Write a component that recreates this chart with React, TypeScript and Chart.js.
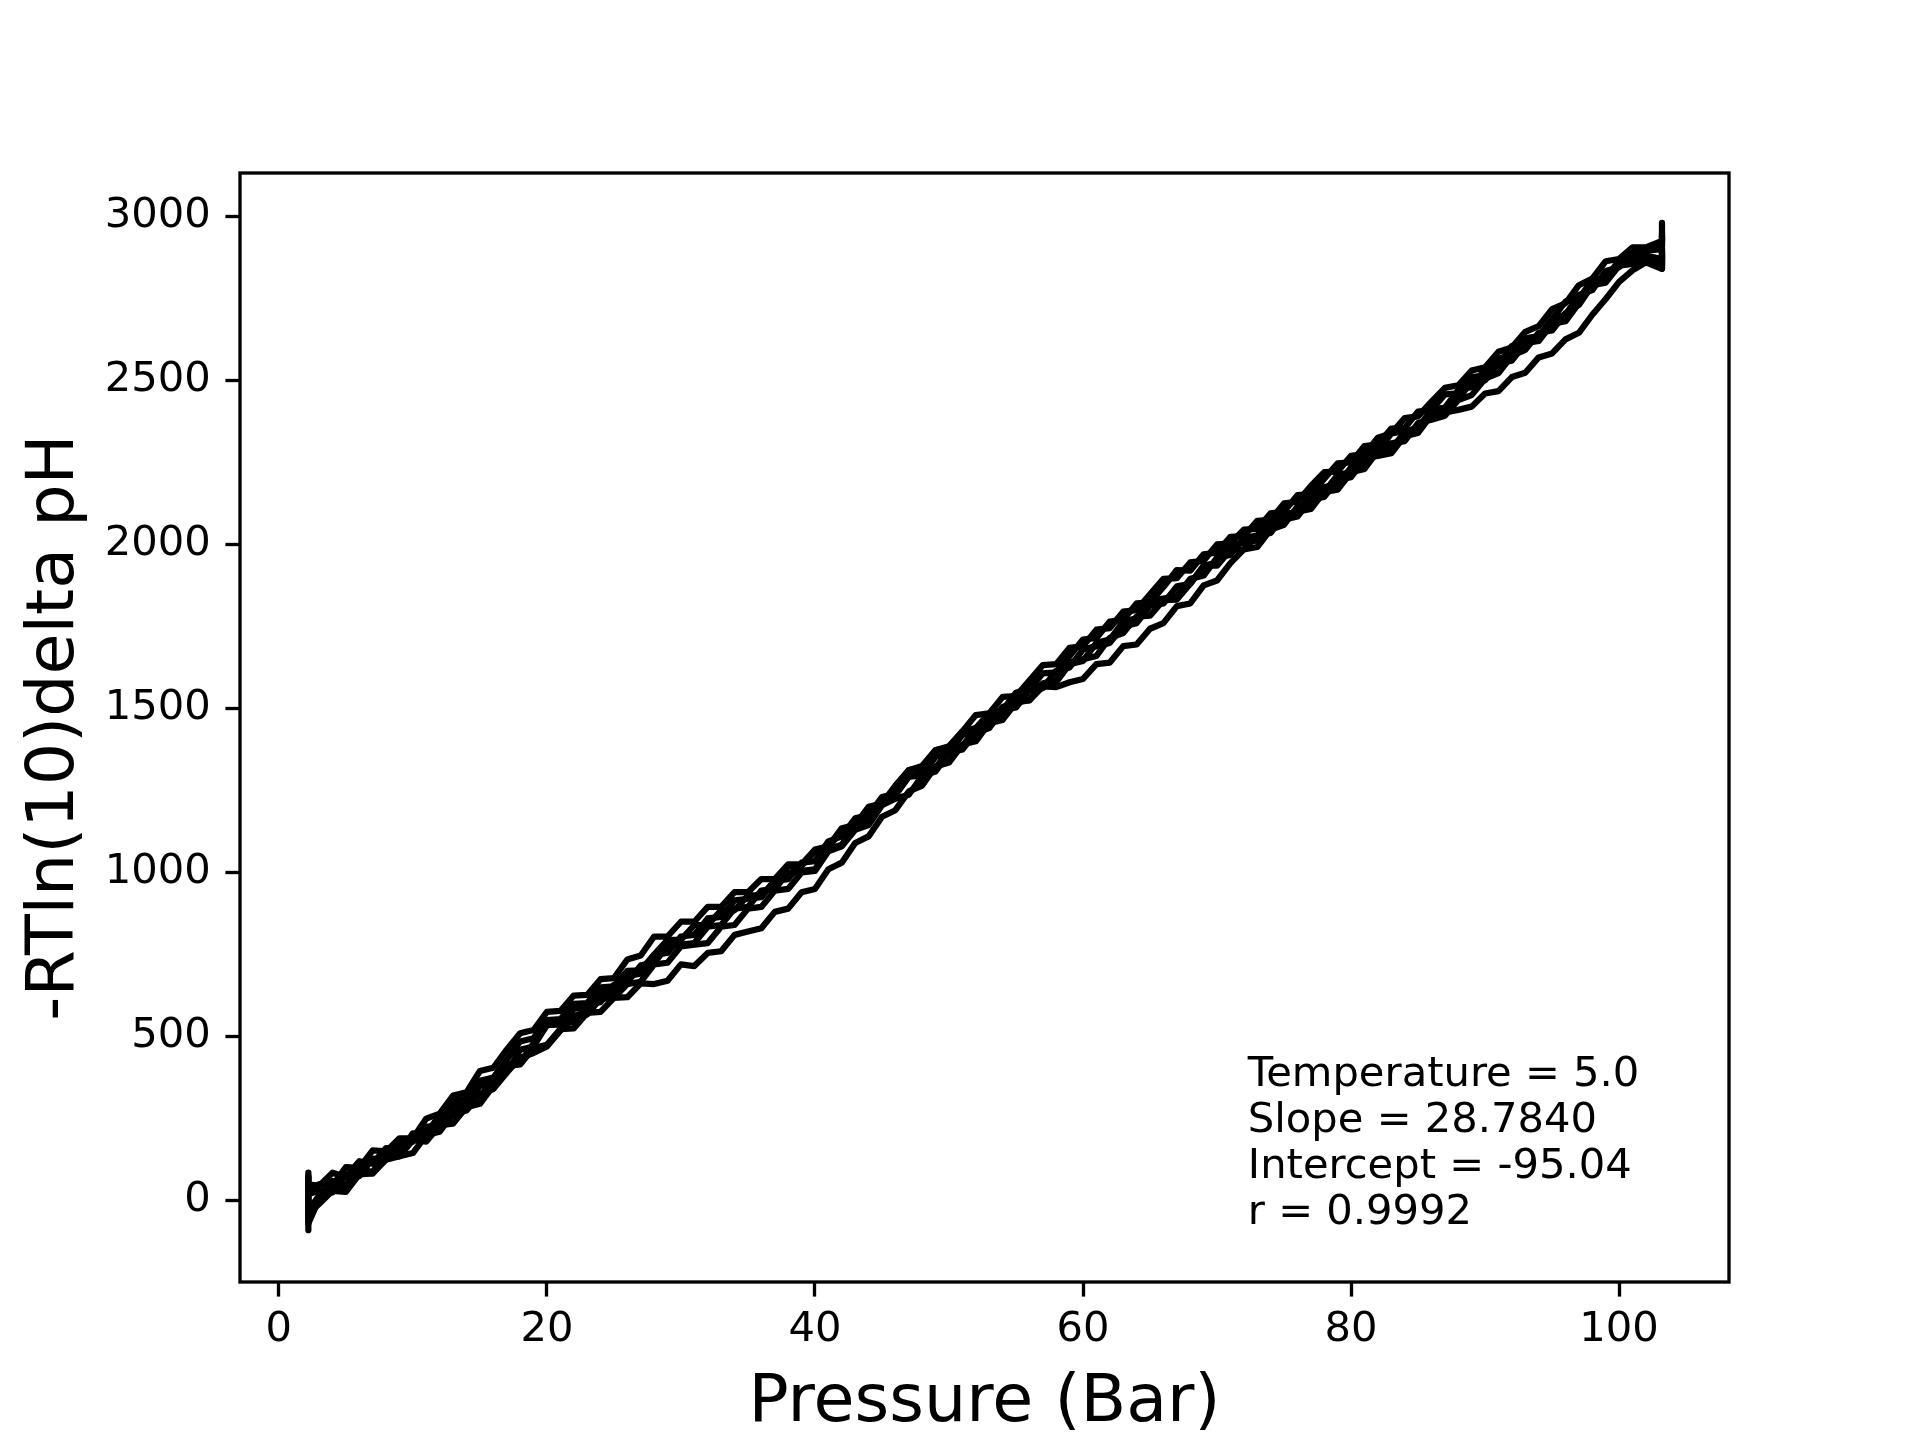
import React, { useEffect, useRef } from "react"
import { Chart, registerables } from "chart.js"

Chart.register(...registerables)

// pressure readings shared by every run (bar)
const pressureBar = [
  2.2, 2.2, 2.2,
  3, 4, 5, 6, 7, 8, 9, 10, 11, 12,
  13, 14, 15, 16, 17, 18, 19, 20, 21, 22,
  23, 24, 25, 26, 27, 28, 29, 30, 31, 32,
  33, 34, 35, 36, 37, 38, 39, 40, 41, 42,
  43, 44, 45, 46, 47, 48, 49, 50, 51, 52,
  53, 54, 55, 56, 57, 58, 59, 60, 61, 62,
  63, 64, 65, 66, 67, 68, 69, 70, 71, 72,
  73, 74, 75, 76, 77, 78, 79, 80, 81, 82,
  83, 84, 85, 86, 87, 88, 89, 90, 91, 92,
  93, 94, 95, 96, 97, 98, 99, 100, 101, 102,
  103.2, 103.2, 103.2,
]

// -RT ln(10) delta pH for each run
const runA = [
  60, 75, 35,
  50, 45, 102, 100, 153, 150, 190, 190, 250, 265,
  320, 330, 395, 405, 460, 510, 520, 575, 578, 625,
  627, 675, 678, 735, 747, 805, 805, 850, 850, 895,
  895, 940, 940, 980, 980, 1025, 1025, 1070, 1080, 1135,
  1145, 1200, 1210, 1265, 1312, 1325, 1373, 1385, 1430, 1440,
  1485, 1495, 1548, 1560, 1607, 1610, 1660, 1710, 1715, 1765,
  1770, 1820, 1823, 1870, 1922, 1920, 1970, 1975, 2023, 2025,
  2072, 2075, 2125, 2130, 2178, 2220, 2222, 2270, 2275, 2325,
  2338, 2385, 2390, 2435, 2477, 2485, 2530, 2540, 2587, 2600,
  2648, 2665, 2717, 2735, 2790, 2810, 2863, 2870, 2905, 2905,
  2925, 2980, 2940,
]
const runB = [
  -60, -90, -40,
  -10, 30, 27, 80, 83, 130, 135, 185, 180, 230,
  235, 285, 295, 350, 410, 415, 465, 475, 523, 525,
  572, 575, 618, 620, 662, 660, 670, 720, 715, 755,
  760, 810, 820, 830, 880, 890, 940, 950, 1010, 1030,
  1090, 1110, 1170, 1190, 1247, 1265, 1323, 1335, 1390, 1400,
  1455, 1465, 1518, 1525, 1577, 1585, 1640, 1650, 1660, 1715,
  1730, 1780, 1783, 1830, 1832, 1880, 1935, 1935, 1983, 1985,
  2027, 2035, 2090, 2100, 2108, 2160, 2167, 2220, 2230, 2285,
  2293, 2340, 2345, 2395, 2397, 2445, 2495, 2500, 2552, 2560,
  2613, 2620, 2672, 2680, 2735, 2790, 2798, 2850, 2855, 2880,
  2870, 2840, 2890,
]
const runC = [
  10, -50, 20,
  30, 25, 77, 75, 128, 125, 180, 180, 225, 230,
  290, 295, 350, 355, 415, 420, 480, 535, 538, 585,
  587, 635, 633, 685, 692, 750, 755, 805, 810, 860,
  865, 915, 920, 925, 975, 980, 1030, 1035, 1095, 1110,
  1165, 1175, 1230, 1240, 1292, 1295, 1353, 1365, 1420, 1430,
  1475, 1480, 1523, 1525, 1567, 1565, 1580, 1590, 1635, 1640,
  1690, 1695, 1743, 1760, 1812, 1820, 1875, 1890, 1943, 1985,
  1992, 2045, 2060, 2115, 2123, 2175, 2182, 2235, 2245, 2300,
  2308, 2315, 2370, 2380, 2392, 2440, 2455, 2505, 2522, 2575,
  2593, 2645, 2652, 2705, 2730, 2790, 2803, 2850, 2860, 2870,
  2860, 2900, 2850,
]
const runD = [
  -20, 40, -70,
  5, 45, 42, 85, 83, 125, 135, 145, 200, 210,
  265, 275, 325, 340, 390, 435, 450, 470, 518, 565,
  567, 615, 618, 660, 667, 720, 725, 775, 780, 785,
  835, 840, 890, 895, 945, 950, 1000, 1005, 1065, 1080,
  1130, 1145, 1205, 1225, 1237, 1295, 1308, 1365, 1375, 1425,
  1440, 1495, 1503, 1555, 1562, 1615, 1625, 1680, 1690, 1700,
  1750, 1760, 1813, 1820, 1872, 1880, 1935, 1945, 1998, 2005,
  2012, 2065, 2075, 2085, 2138, 2145, 2197, 2205, 2260, 2270,
  2278, 2330, 2340, 2395, 2402, 2410, 2420, 2460, 2467, 2510,
  2523, 2570, 2582, 2625, 2645, 2700, 2748, 2800, 2835, 2860,
  2840, 2880, 2860,
]
const runE = [
  85, 30, 50,
  45, 85, 72, 120, 113, 160, 155, 200, 205, 255,
  305, 310, 365, 375, 430, 485, 495, 550, 553, 600,
  602, 650, 653, 700, 702, 750, 795, 795, 840, 840,
  885, 885, 930, 930, 975, 1020, 1020, 1065, 1075, 1130,
  1140, 1195, 1205, 1260, 1312, 1320, 1373, 1380, 1430, 1480,
  1485, 1535, 1538, 1585, 1632, 1635, 1685, 1690, 1740, 1745,
  1795, 1800, 1848, 1895, 1897, 1945, 1950, 2000, 2003, 2045,
  2047, 2095, 2100, 2150, 2153, 2200, 2247, 2250, 2300, 2305,
  2353, 2355, 2405, 2410, 2457, 2460, 2510, 2515, 2567, 2575,
  2628, 2635, 2687, 2740, 2750, 2805, 2813, 2865, 2875, 2900,
  2910, 2950, 2920,
]
const runF = [
  0, 70, -30,
  15, 60, 47, 95, 88, 145, 145, 205, 205, 260,
  260, 315, 315, 375, 390, 460, 470, 535, 538, 545,
  597, 605, 658, 665, 717, 725, 775, 780, 785, 835,
  840, 890, 895, 945, 950, 1000, 1005, 1010, 1070, 1085,
  1145, 1160, 1220, 1235, 1292, 1305, 1318, 1375, 1385, 1440,
  1450, 1505, 1513, 1565, 1572, 1580, 1635, 1645, 1700, 1710,
  1765, 1775, 1828, 1835, 1842, 1895, 1905, 1960, 1968, 2020,
  2027, 2080, 2090, 2100, 2153, 2160, 2212, 2220, 2275, 2285,
  2338, 2345, 2355, 2410, 2417, 2470, 2480, 2535, 2547, 2605,
  2618, 2630, 2687, 2700, 2760, 2775, 2833, 2845, 2890, 2895,
  2900, 2870, 2940,
]

const runs = [runA, runB, runC, runD, runE, runF]

const xTickValues = [0, 20, 40, 60, 80, 100]
const yTickValues = [0, 500, 1000, 1500, 2000, 2500, 3000]

const fitLines = [
  "Temperature = 5.0",
  "Slope = 28.7840",
  "Intercept = -95.04",
  "r = 0.9992",
]

const FONT = "DejaVu Sans"
const PT = 300 / 72

const framePlugin = {
  id: "frameAndNote",
  afterDraw(chart: any) {
    const { ctx, chartArea, scales } = chart
    ctx.save()
    ctx.strokeStyle = "#000"
    ctx.lineWidth = 0.8 * PT
    ctx.strokeRect(
      chartArea.left,
      chartArea.top,
      chartArea.right - chartArea.left,
      chartArea.bottom - chartArea.top
    )
    ctx.fillStyle = "#000"
    ctx.font = `${10 * PT}px "${FONT}"`
    ctx.textAlign = "left"
    ctx.textBaseline = "alphabetic"
    const x0 = scales.x.getPixelForValue(72.3)
    const y0 = scales.y.getPixelForValue(350)
    fitLines.forEach((line, i) => {
      ctx.fillText(line, x0, y0 + i * 46)
    })
    ctx.restore()
  },
}

const App: React.FC = () => {
  const chartRef = useRef<HTMLCanvasElement | null>(null)

  useEffect(() => {
    document.body.style.margin = "0"
    if (!chartRef.current) return
    const ctx = chartRef.current.getContext("2d")
    if (!ctx) return

    const tickFont = { family: FONT, size: 10 * PT }
    const titleFont = { family: FONT, size: 16 * PT }

    const chart = new Chart(ctx, {
      type: "scatter",
      data: {
        datasets: runs.map((run, k) => ({
          label: `run ${k + 1}`,
          data: pressureBar.map((p, i) => ({ x: p, y: run[i] })),
          showLine: true,
          borderColor: "#000",
          backgroundColor: "#000",
          borderWidth: 1.5 * PT,
          borderJoinStyle: "round" as const,
          borderCapStyle: "round" as const,
          pointRadius: 0,
          tension: 0,
        })),
      },
      plugins: [framePlugin],
      options: {
        responsive: false,
        animation: false,
        devicePixelRatio: 1,
        layout: { padding: { left: 0, top: 173, right: 191, bottom: 0 } },
        plugins: {
          legend: { display: false },
          tooltip: { enabled: false },
        },
        scales: {
          x: {
            type: "linear",
            min: -2.9,
            max: 108.2,
            afterBuildTicks: (scale: any) => {
              scale.ticks = xTickValues.map((value) => ({ value }))
            },
            afterFit: (scale: any) => {
              scale.height = 158
            },
            border: { display: false },
            grid: {
              drawOnChartArea: false,
              drawTicks: true,
              tickLength: 3.5 * PT,
              tickWidth: 0.8 * PT,
              tickColor: "#000",
            },
            ticks: {
              color: "#000",
              font: tickFont,
              padding: 8.5,
              maxRotation: 0,
              callback: (v: any) => String(v),
            },
            title: {
              display: true,
              text: "Pressure (Bar)",
              color: "#000",
              font: titleFont,
              padding: { top: 0, bottom: -4 },
            },
          },
          y: {
            type: "linear",
            min: -248,
            max: 3132,
            afterBuildTicks: (scale: any) => {
              scale.ticks = yTickValues.map((value) => ({ value }))
            },
            afterFit: (scale: any) => {
              scale.width = 240
            },
            border: { display: false },
            grid: {
              drawOnChartArea: false,
              drawTicks: true,
              tickLength: 3.5 * PT,
              tickWidth: 0.8 * PT,
              tickColor: "#000",
            },
            ticks: {
              color: "#000",
              font: tickFont,
              padding: 3.5 * PT,
              callback: (v: any) => String(v),
            },
            title: {
              display: true,
              text: "-RTln(10)delta pH",
              color: "#000",
              font: titleFont,
              padding: { top: 16, bottom: 0 },
            },
          },
        },
      },
    })

    return () => {
      chart.destroy()
    }
  }, [])

  return (
    <div style={{ width: 1920, height: 1440, background: "#fff" }}>
      <canvas ref={chartRef} width={1920} height={1440} />
    </div>
  )
}

export default App
